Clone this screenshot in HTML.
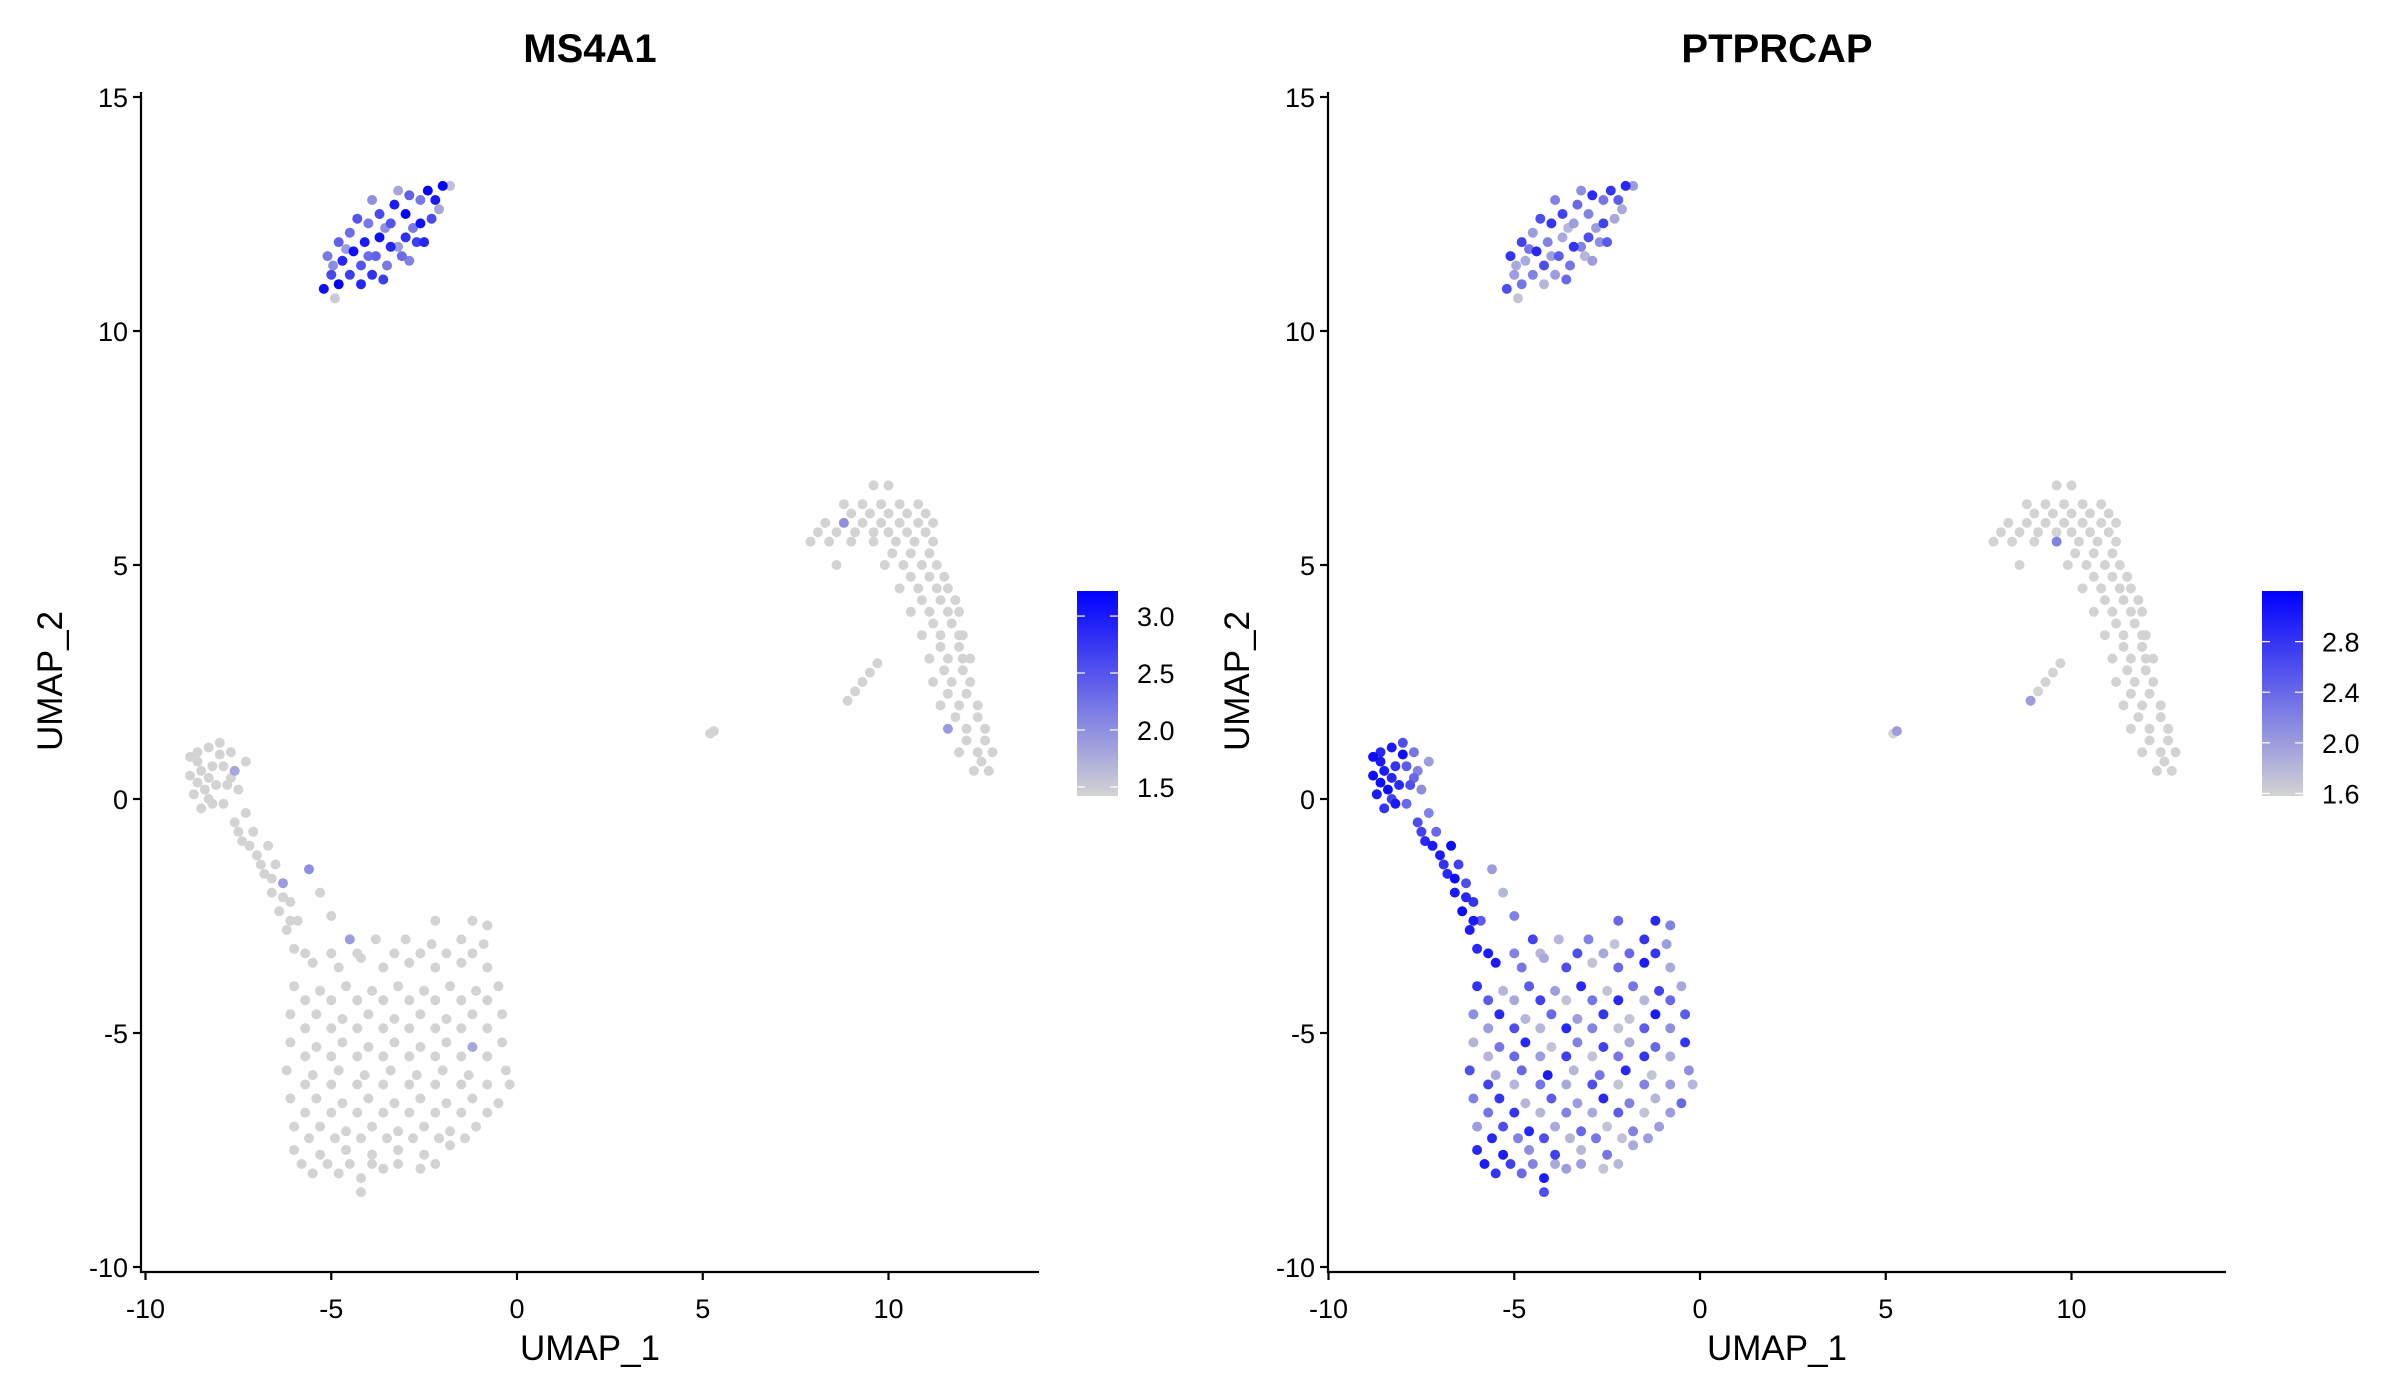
<!DOCTYPE html>
<html><head><meta charset="utf-8"><style>
html,body{margin:0;padding:0;background:#fff;}
svg{display:block;font-family:"Liberation Sans",Arial,sans-serif;}
</style></head><body>
<svg id="chart" width="2400" height="1400" viewBox="0 0 2400 1400" xmlns="http://www.w3.org/2000/svg"></svg>
<script>
// UMAP cell embeddings: [UMAP_1, UMAP_2, MS4A1, PTPRCAP]
const bCells = [
[-5.2,10.9,3.1,2.6],[-5.0,11.2,2.6,2.0],[-5.1,11.6,2.2,2.8],[-4.8,11.0,3.2,2.3],[-4.7,11.5,2.9,1.9],[-4.8,11.9,2.4,2.7],
[-4.5,11.2,2.7,2.2],[-4.4,11.7,3.1,2.9],[-4.5,12.1,2.3,2.0],[-4.2,11.0,2.9,1.8],[-4.2,11.4,2.5,2.6],[-4.1,11.9,3.0,2.2],
[-4.0,12.3,2.2,2.8],[-3.9,11.2,2.8,2.0],[-3.8,11.6,2.4,2.5],[-3.7,12.0,3.1,1.9],[-3.7,12.5,2.6,2.7],[-3.5,11.4,2.2,2.3],
[-3.4,11.8,2.9,2.8],[-3.4,12.3,2.5,2.0],[-3.3,12.7,3.0,2.4],[-3.1,11.6,2.3,1.8],[-3.0,12.0,2.8,2.6],[-3.0,12.5,3.2,2.2],
[-2.9,12.9,2.4,2.9],[-2.7,11.9,2.7,2.1],[-2.6,12.3,3.1,2.7],[-2.6,12.8,2.2,2.3],[-2.4,13.0,3.2,2.8],[-2.3,12.4,2.6,1.9],
[-2.2,12.8,3.0,2.5],[-2.0,13.1,3.2,2.9],[-1.8,13.1,1.6,2.0],[-4.9,10.7,1.5,1.7],[-3.6,11.1,2.7,2.4],[-2.9,11.5,2.1,2.0],
[-4.3,12.4,2.5,2.6],[-3.9,12.8,2.0,2.2],[-3.2,13.0,1.8,2.1],[-2.5,11.9,2.9,2.5],
[-4.95,11.4,2.0,1.9],[-4.6,11.75,1.9,2.3],[-4.0,11.6,2.3,2.0],[-3.55,12.2,2.0,1.8],[-3.2,11.8,1.9,2.2],[-2.8,12.2,2.2,2.0],[-2.1,12.6,1.8,1.9]
];
const bigCells = [
[-8.8,0.9,0,3.1],[-8.6,1.0,0,2.9],[-8.3,1.1,0,3.0],[-8.0,1.2,0,2.6],[-7.7,1.0,0,2.3],[-8.8,0.5,0,3.1],[-8.5,0.6,0,3.0],
[-8.2,0.7,0,2.8],[-7.9,0.7,0,2.5],[-7.6,0.6,1.8,2.2],[-8.7,0.1,0,3.0],[-8.4,0.2,0,3.1],[-8.1,0.3,0,2.9],[-7.8,0.3,0,2.6],
[-8.5,-0.2,0,2.8],[-8.2,-0.1,0,3.0],[-7.9,-0.1,0,2.4],[-7.5,0.2,0,2.1],[-7.3,0.8,0,2.0],
[-8.6,0.8,0,3.0],[-8.3,0.45,0,2.9],[-8.0,0.95,0,3.1],[-7.7,0.45,0,2.4],[-8.6,0.35,0,3.1],[-8.3,0.0,0,2.7],
[-7.6,-0.5,0,2.6],[-7.3,-0.3,0,2.2],[-7.4,-0.9,0,2.9],[-7.1,-0.7,0,2.4],[-7.0,-1.2,0,3.0],[-6.7,-1.0,0,3.1],[-6.8,-1.6,0,2.9],
[-6.5,-1.4,0,2.7],[-6.6,-2.0,0,3.0],[-6.3,-1.8,1.9,2.6],[-6.4,-2.4,0,3.1],[-6.1,-2.2,0,2.8],[-6.2,-2.8,0,3.0],[-5.9,-2.6,0,2.5],
[-5.6,-1.5,2.0,2.0],[-5.3,-2.0,0,1.8],[-5.0,-2.5,0,2.2],[-6.0,-3.2,0,2.9],[-5.7,-3.3,0,3.0],
[-7.2,-1.0,0,3.0],[-6.9,-1.4,0,2.8],[-6.6,-1.7,0,3.1],[-6.3,-2.1,0,2.9],[-6.1,-2.6,0,3.0],[-7.5,-0.7,0,2.7],
[-2.2,-2.6,0,2.4],[-1.2,-2.6,0,2.9],[-0.8,-2.7,0,2.2],
[-4.5,-3.0,1.9,2.7],[-3.8,-3.0,0,1.8],[-3.0,-3.0,0,2.2],[-2.3,-3.1,0,1.7],[-1.5,-3.0,0,2.8],[-0.9,-3.1,0,2.0],
[-5.5,-3.5,0,3.0],[-4.8,-3.6,0,2.3],[-4.2,-3.4,0,1.9],[-3.6,-3.6,0,2.6],[-2.9,-3.5,0,1.7],[-2.2,-3.6,0,2.4],[-1.5,-3.5,0,3.0],[-0.8,-3.6,0,1.9],
[-6.0,-4.0,0,2.8],[-5.3,-4.1,0,1.8],[-4.6,-4.0,0,2.5],[-3.9,-4.1,0,2.0],[-3.2,-4.0,0,2.9],[-2.5,-4.1,0,1.7],[-1.8,-4.0,0,2.3],[-1.1,-4.1,0,2.7],[-0.5,-4.0,0,1.9],
[-6.1,-4.6,0,2.1],[-5.4,-4.6,0,2.9],[-4.7,-4.7,0,1.8],[-4.0,-4.6,0,2.4],[-3.3,-4.7,0,2.0],[-2.6,-4.6,0,2.8],[-1.9,-4.7,0,1.7],[-1.2,-4.6,0,3.0],[-0.4,-4.6,0,2.5],
[-6.1,-5.2,0,1.8],[-5.4,-5.3,0,2.3],[-4.7,-5.2,0,2.9],[-4.0,-5.3,0,1.7],[-3.3,-5.2,0,2.2],[-2.6,-5.3,0,2.7],[-1.9,-5.2,0,1.9],[-1.2,-5.3,1.8,2.4],[-0.4,-5.2,0,2.8],
[-6.2,-5.8,0,2.6],[-5.5,-5.9,0,1.9],[-4.8,-5.8,0,2.4],[-4.1,-5.9,0,3.0],[-3.4,-5.8,0,1.8],[-2.7,-5.9,0,2.3],[-2.0,-5.8,0,2.9],[-1.3,-5.9,0,1.7],[-0.3,-5.8,0,2.1],
[-6.1,-6.4,0,2.2],[-5.4,-6.4,0,2.8],[-4.7,-6.5,0,1.8],[-4.0,-6.4,0,2.5],[-3.3,-6.5,0,2.0],[-2.6,-6.4,0,2.9],[-1.9,-6.5,0,2.2],[-1.2,-6.4,0,1.8],[-0.5,-6.5,0,2.4],
[-6.0,-7.0,0,2.0],[-5.3,-7.0,0,2.6],[-4.6,-7.1,0,2.9],[-3.9,-7.0,0,1.9],[-3.2,-7.1,0,2.4],[-2.5,-7.0,0,1.7],[-1.8,-7.1,0,2.2],[-1.1,-7.0,0,2.0],
[-6.0,-7.5,0,2.9],[-5.3,-7.6,0,3.0],[-4.6,-7.5,0,2.1],[-3.9,-7.6,0,2.7],[-3.2,-7.5,0,1.8],[-2.5,-7.6,0,2.3],[-1.8,-7.4,0,1.9],
[-5.5,-8.0,0,2.8],[-4.8,-8.0,0,2.4],[-4.2,-8.1,0,3.0],[-3.6,-7.9,0,2.0],[-2.6,-7.9,0,1.7],[-4.2,-8.4,0,2.6],
[-5.0,-3.3,0,2.2],[-4.3,-3.3,0,1.8],[-3.3,-3.3,0,2.6],[-2.6,-3.3,0,1.9],[-1.9,-3.3,0,2.4],[-1.2,-3.3,0,2.8],
[-5.7,-4.3,0,2.5],[-5.0,-4.3,0,1.9],[-4.3,-4.3,0,2.7],[-3.6,-4.3,0,1.7],[-2.9,-4.3,0,2.3],[-2.2,-4.3,0,2.9],[-1.5,-4.3,0,1.8],[-0.8,-4.3,0,2.4],
[-5.7,-4.9,0,2.0],[-5.0,-4.9,0,2.6],[-4.3,-4.9,0,1.8],[-3.6,-4.9,0,2.9],[-2.9,-4.9,0,2.2],[-2.2,-4.9,0,1.7],[-1.5,-4.9,0,2.5],[-0.8,-4.9,0,2.1],
[-5.7,-5.5,0,1.8],[-5.0,-5.5,0,2.4],[-4.3,-5.5,0,2.0],[-3.6,-5.5,0,2.7],[-2.9,-5.5,0,1.7],[-2.2,-5.5,0,2.3],[-1.5,-5.5,0,2.8],[-0.8,-5.5,0,1.9],
[-5.7,-6.1,0,2.7],[-5.0,-6.1,0,1.8],[-4.3,-6.1,0,2.3],[-3.6,-6.1,0,1.9],[-2.9,-6.1,0,2.6],[-2.2,-6.1,0,1.7],[-1.5,-6.1,0,2.2],[-0.8,-6.1,0,2.0],[-0.2,-6.1,0,1.8],
[-5.7,-6.7,0,2.3],[-5.0,-6.7,0,2.8],[-4.3,-6.7,0,1.8],[-3.6,-6.7,0,2.2],[-2.9,-6.7,0,1.9],[-2.2,-6.7,0,2.5],[-1.5,-6.7,0,1.7],[-0.8,-6.7,0,2.0],
[-5.6,-7.25,0,2.9],[-4.9,-7.25,0,2.2],[-4.2,-7.25,0,2.6],[-3.5,-7.25,0,1.8],[-2.8,-7.25,0,2.3],[-2.1,-7.25,0,1.7],[-1.4,-7.25,0,2.0],
[-5.8,-7.8,0,3.0],[-5.1,-7.8,0,2.7],[-4.5,-7.8,0,2.2],[-3.9,-7.8,0,1.9],[-3.2,-7.8,0,2.0],[-2.2,-7.8,0,1.8]
];
const rightCells = [
[9.6,6.7,0,0],[10.0,6.7,0,0],[8.8,6.3,0,0],[9.3,6.3,0,0],[9.8,6.3,0,0],[10.3,6.3,0,0],[10.8,6.3,0,0],
[8.3,5.9,0,0],[8.8,5.9,2.0,0],[9.3,5.9,0,0],[9.8,5.9,0,0],[10.3,5.9,0,0],[10.8,5.9,0,0],[11.2,5.9,0,0],
[7.9,5.5,0,0],[8.4,5.5,0,0],[9.0,5.5,0,0],[9.6,5.5,0,2.2],[10.2,5.5,0,0],[10.7,5.5,0,0],[11.2,5.5,0,0],
[8.6,5.0,0,0],[9.9,5.0,0,0],[10.4,5.0,0,0],[10.9,5.0,0,0],[11.3,5.0,0,0],
[10.3,4.5,0,0],[10.8,4.5,0,0],[11.3,4.5,0,0],[11.6,4.5,0,0],
[10.6,4.0,0,0],[11.1,4.0,0,0],[11.6,4.0,0,0],[11.9,4.0,0,0],
[10.9,3.5,0,0],[11.4,3.5,0,0],[11.9,3.5,0,0],[12.0,3.5,0,0],
[11.1,3.0,0,0],[11.6,3.0,0,0],[12.0,3.0,0,0],[12.2,3.0,0,0],
[11.2,2.5,0,0],[11.7,2.5,0,0],[12.2,2.5,0,0],[11.4,2.0,0,0],[11.9,2.0,0,0],[12.4,2.0,0,0],
[11.6,1.5,1.9,0],[12.1,1.5,0,0],[12.6,1.5,0,0],[11.9,1.0,0,0],[12.4,1.0,0,0],[12.8,1.0,0,0],[12.3,0.6,0,0],[12.7,0.6,0,0],
[9.0,6.1,0,0],[9.5,6.1,0,0],[10.0,6.1,0,0],[10.5,6.1,0,0],[11.0,6.1,0,0],
[8.1,5.7,0,0],[8.6,5.7,0,0],[9.1,5.7,0,0],[9.6,5.7,0,0],[10.0,5.7,0,0],[10.5,5.7,0,0],[11.0,5.7,0,0],
[10.1,5.25,0,0],[10.6,5.25,0,0],[11.1,5.25,0,0],[10.6,4.75,0,0],[11.1,4.75,0,0],[11.5,4.75,0,0],
[10.9,4.25,0,0],[11.4,4.25,0,0],[11.8,4.25,0,0],[11.2,3.75,0,0],[11.7,3.75,0,0],[11.4,3.25,0,0],[11.9,3.25,0,0],
[11.5,2.75,0,0],[12.0,2.75,0,0],[11.6,2.25,0,0],[12.1,2.25,0,0],[11.8,1.75,0,0],[12.4,1.75,0,0],[12.1,1.25,0,0],[12.6,1.25,0,0],[12.5,0.8,0,0],
[8.9,2.1,0,2.0],[9.1,2.3,0,0],[9.3,2.5,0,0],[9.5,2.7,0,0],[9.7,2.9,0,0],[5.2,1.4,0,0],[5.3,1.45,0,2.0]
];
const xTicks = [-10,-5,0,5,10];
const yTicks = [15,10,5,0,-5,-10];
const ms4a1Legend = [3.0,2.5,2.0,1.5];
const ptprcapLegend = [2.8,2.4,2.0,1.6];
const panelTitles = ["MS4A1","PTPRCAP"];

const NS="http://www.w3.org/2000/svg";
const svg=document.getElementById('chart');
function mk(tag,attrs,parent){const e=document.createElementNS(NS,tag);for(const k in attrs)e.setAttribute(k,attrs[k]);(parent||svg).appendChild(e);return e;}
function colorFor(v,lo,hi){let t=(v-lo)/(hi-lo);t=Math.max(0,Math.min(1,t));
  const r=Math.round(211*(1-t)),g=Math.round(211*(1-t)),b=Math.round(211+(255-211)*t);return `rgb(${r},${g},${b})`;}
const allCells=bCells.concat(bigCells,rightCells);

function panel(idx,axX,x0px,exprIdx,lo,hi,legendVals,cbX){
  const xs=v=>x0px+37.15*v;
  const ys=v=>799-46.8*v;
  const g=mk('g',{});
  
  
  const t=mk('text',{x:(axX+axX+898)/2,y:62,'font-size':40,'font-weight':'bold','text-anchor':'middle'},g);
  t.textContent=panelTitles[idx];
  
  
  const sorted=allCells.slice().sort((a,b)=>a[exprIdx]-b[exprIdx]);
  const pts=mk('g',{},g);
  
  
  sorted.forEach(c=>{
    const p=mk('circle',{cx:xs(c[0]).toFixed(1),cy:ys(c[1]).toFixed(1),r:5,fill:colorFor(c[exprIdx],lo,hi)},pts);
    
    
  });
  const ax=mk('g',{stroke:'#000','stroke-width':2.2},g);
  
  
  mk('line',{x1:axX,y1:92,x2:axX,y2:1273},ax);
  mk('line',{x1:axX-1,y1:1272,x2:axX+898,y2:1272},ax);
  xTicks.forEach(v=>{mk('line',{x1:xs(v),y1:1272,x2:xs(v),y2:1280},ax);
    const l=mk('text',{x:xs(v),y:1318,'font-size':27,'text-anchor':'middle',stroke:'none',fill:'#000'},g);l.textContent=v;
    
    });
  yTicks.forEach(v=>{mk('line',{x1:axX-8,y1:ys(v),x2:axX,y2:ys(v)},ax);
    const l=mk('text',{x:axX-13,y:ys(v)+10,'font-size':27,'text-anchor':'end',stroke:'none',fill:'#000'},g);l.textContent=v;
    
    });
  const xt=mk('text',{x:(axX+axX+898)/2,y:1360,'font-size':35,'text-anchor':'middle'},g);xt.textContent='UMAP_1';
  
  
  const yt=mk('text',{x:0,y:0,'font-size':35,'text-anchor':'middle',transform:`translate(${axX-79},681) rotate(-90)`},g);yt.textContent='UMAP_2';
  
  
  const cb=mk('g',{},g);
  
  
  const gid='grad'+idx;
  const defs=mk('defs',{},cb);
  const lg=mk('linearGradient',{id:gid,x1:0,y1:1,x2:0,y2:0},defs);
  mk('stop',{offset:0,'stop-color':'#d3d3d3'},lg);mk('stop',{offset:1,'stop-color':'#0000ff'},lg);
  mk('rect',{x:cbX,y:591,width:41,height:205,fill:`url(#${gid})`},cb);
  const cy=v=>796-(v-lo)/(hi-lo)*205;
  legendVals.forEach(v=>{
    mk('line',{x1:cbX,y1:cy(v),x2:cbX+8,y2:cy(v),stroke:'#fff','stroke-width':1.2},cb);
    mk('line',{x1:cbX+33,y1:cy(v),x2:cbX+41,y2:cy(v),stroke:'#fff','stroke-width':1.2},cb);
    const l=mk('text',{x:cbX+60,y:cy(v)+10,'font-size':27},cb);l.textContent=v.toFixed(1);
    
    
  });
}
panel(0,141,517,2,1.42,3.22,ms4a1Legend,1077);
panel(1,1328,1700,3,1.58,3.2,ptprcapLegend,2262);
</script>
</body></html>
